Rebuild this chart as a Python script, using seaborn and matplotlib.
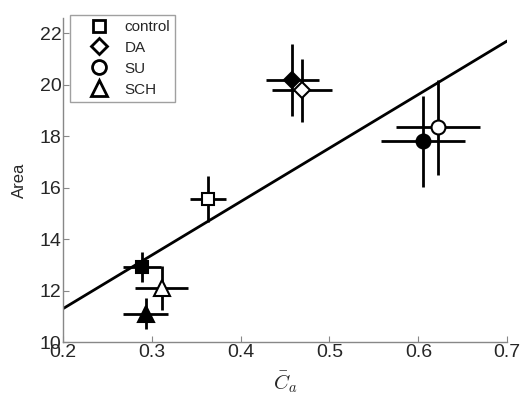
import numpy as np
import pandas as pd
import matplotlib
matplotlib.use("Agg")
import matplotlib.pyplot as plt
import seaborn as sns
from matplotlib.lines import Line2D

groups = ["control", "DA", "SU", "SCH"]
group_markers = ["s", "D", "o", "^"]
marker_sizes = [9, 8, 10, 11]

# filled markers
filled_x = [0.289, 0.458, 0.605, 0.293]
filled_y = [12.92, 20.18, 17.80, 11.10]
filled_xerr = [0.021, 0.030, 0.047, 0.025]
filled_yerr = [0.58, 1.40, 1.77, 0.60]

# open markers
open_x = [0.363, 0.469, 0.622, 0.311]
open_y = [15.57, 19.79, 18.34, 12.10]
open_xerr = [0.020, 0.034, 0.047, 0.030]
open_yerr = [0.90, 1.22, 1.85, 0.86]

fit_x = [0.2, 0.7]
fit_y = [11.3, 21.7]

sns.set_style("ticks")
plt.rcParams["font.family"] = ["Liberation Sans", "DejaVu Sans"]
plt.rcParams["mathtext.fontset"] = "cm"

fig = plt.figure(figsize=(5.25, 3.96), dpi=100)
ax = fig.add_axes([0.12, 0.136, 0.846, 0.819])

sns.lineplot(x=fit_x, y=fit_y, color="black", lw=2, ax=ax, zorder=2)

for i, m in enumerate(group_markers):
    ms = marker_sizes[i]
    ax.errorbar(filled_x[i], filled_y[i], xerr=filled_xerr[i], yerr=filled_yerr[i],
                fmt=m, color="black", mfc="black", mec="black", ms=ms, mew=1.5,
                elinewidth=2, capsize=0, zorder=3)
    ax.errorbar(open_x[i], open_y[i], xerr=open_xerr[i], yerr=open_yerr[i],
                fmt=m, color="black", mfc="white", mec="black", ms=ms, mew=1.5,
                elinewidth=2, capsize=0, zorder=3)

ax.set_xlim(0.2, 0.7)
ax.set_ylim(10, 22.6)
ax.set_xticks(np.arange(0.2, 0.71, 0.1))
ax.set_xticklabels(["0.2", "0.3", "0.4", "0.5", "0.6", "0.7"])
ax.set_yticks(np.arange(10, 23, 2))
ax.tick_params(direction="in", length=4, color="#888888", labelsize=14, pad=1)
for s in ["top", "right"]:
    ax.spines[s].set_visible(False)
for s in ["left", "bottom"]:
    ax.spines[s].set_color("#888888")
    ax.spines[s].set_linewidth(1)

ax.set_xlabel(r"$\bar{C}_a$", fontsize=15, labelpad=6)
ax.set_ylabel("Area", fontsize=12, labelpad=9)

handles = [Line2D([], [], marker=m, ls="none", mfc="white", mec="black", mew=2,
                  ms=marker_sizes[i], color="black") for i, m in enumerate(group_markers)]
leg = ax.legend(handles, groups, loc="upper left", bbox_to_anchor=(0.016, 1.01),
                fontsize=11, frameon=True, fancybox=False, handlelength=3.1,
                handletextpad=0.1, borderpad=0.35, labelspacing=0.45,
                borderaxespad=0)
leg.get_frame().set_edgecolor("#888888")
leg.get_frame().set_linewidth(1)

fig.savefig("out.png", dpi=100)
